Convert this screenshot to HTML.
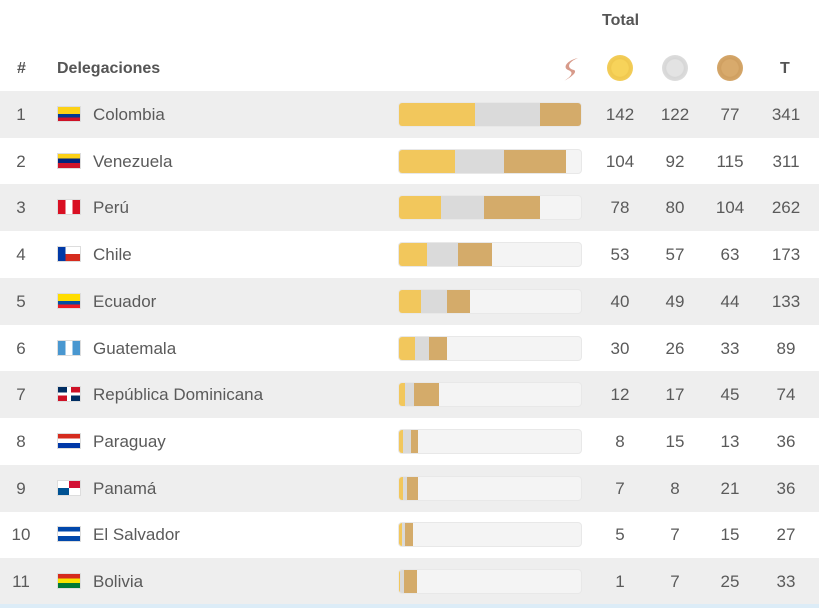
<!DOCTYPE html>
<html><head><meta charset="utf-8"><style>
*{margin:0;padding:0;box-sizing:border-box}
body{width:819px;height:608px;background:#fff;font-family:"Liberation Sans",sans-serif;color:#5a5a5a;position:relative;overflow:hidden}
.h{position:absolute;font-weight:bold;font-size:16px;color:#555}
.r{position:absolute;left:0;width:819px;height:47px}
.g{background:#eeeeee}
.r span{position:absolute;top:0;line-height:47px;font-size:17px}
.n{left:0;width:42px;text-align:center}
.nm{left:93px}
.c{width:50px;text-align:center}
.c1{left:595px}.c2{left:650px}.c3{left:705px}.c4{left:761px}
.fl{position:absolute;left:57px;top:15px;width:24px;height:16px;border:1px solid #ddd;overflow:hidden}
.bar{position:absolute;left:398px;top:11px;width:184px;height:25px;background:#f4f4f4;border-radius:4px;border:1px solid #e8e8e8;overflow:hidden;display:flex}
.bar i{display:block;height:100%}
.au{background:#f2c75c}.ag{background:#dadada}.cu{background:#d4ab6a}
.med{position:absolute;top:55px;width:26px;height:26px;border-radius:50%}
</style></head><body>
<div class="h" style="left:602px;top:12px">Total</div>
<div class="h" style="left:17px;top:60px">#</div>
<div class="h" style="left:57px;top:60px">Delegaciones</div>
<svg style="position:absolute;left:560px;top:56px" width="24" height="26"><path d="M18 2 C8 6,6 12,14 14 C18 16,10 22,4 25 C12 20,14 16,8 14 C2 11,8 4,18 2Z" fill="#d79a8a"/></svg>
<div class="med" style="left:607px;background:radial-gradient(circle,#f7d35a 45%,#f0c84e 50%,#f5d46c)"></div>
<div class="med" style="left:662px;background:radial-gradient(circle,#e3e3e3 45%,#d6d6d6 50%,#e6e6e6)"></div>
<div class="med" style="left:717px;background:radial-gradient(circle,#d8aa6c 45%,#cf9f60 50%,#dcb27a)"></div>
<div class="h" style="left:780px;top:60px">T</div>

<div class="r g" style="top:91px"><span class="n">1</span><div class="fl" style="background:linear-gradient(#fcd116 0 50%,#003893 50% 75%,#ce1126 75%)"></div><span class="nm">Colombia</span><div class="bar"><i class="au" style="width:76px"></i><i class="ag" style="width:65.5px"></i><i class="cu" style="width:41.3px"></i></div><span class="c c1">142</span><span class="c c2">122</span><span class="c c3">77</span><span class="c c4">341</span></div>
<div class="r" style="top:137.7px"><span class="n">2</span><div class="fl" style="background:linear-gradient(#fcd116 0 33%,#00247d 33% 66%,#cf142b 66%)"></div><span class="nm">Venezuela</span><div class="bar"><i class="au" style="width:55.8px"></i><i class="ag" style="width:49.4px"></i><i class="cu" style="width:61.7px"></i></div><span class="c c1">104</span><span class="c c2">92</span><span class="c c3">115</span><span class="c c4">311</span></div>
<div class="r g" style="top:184.4px"><span class="n">3</span><div class="fl" style="background:linear-gradient(90deg,#d91023 0 33%,#fff 33% 66%,#d91023 66%)"></div><span class="nm">Perú</span><div class="bar"><i class="au" style="width:41.9px"></i><i class="ag" style="width:42.9px"></i><i class="cu" style="width:55.8px"></i></div><span class="c c1">78</span><span class="c c2">80</span><span class="c c3">104</span><span class="c c4">262</span></div>
<div class="r" style="top:231.1px"><span class="n">4</span><div class="fl" style="background:linear-gradient(90deg,#0039a6 0 33%,transparent 33%),linear-gradient(#fff 0 50%,#d52b1e 50%)"></div><span class="nm">Chile</span><div class="bar"><i class="au" style="width:28.4px"></i><i class="ag" style="width:30.6px"></i><i class="cu" style="width:33.8px"></i></div><span class="c c1">53</span><span class="c c2">57</span><span class="c c3">63</span><span class="c c4">173</span></div>
<div class="r g" style="top:277.8px"><span class="n">5</span><div class="fl" style="background:linear-gradient(#ffdd00 0 50%,#034ea2 50% 75%,#ed1c24 75%)"></div><span class="nm">Ecuador</span><div class="bar"><i class="au" style="width:21.5px"></i><i class="ag" style="width:26.3px"></i><i class="cu" style="width:23.6px"></i></div><span class="c c1">40</span><span class="c c2">49</span><span class="c c3">44</span><span class="c c4">133</span></div>
<div class="r" style="top:324.5px"><span class="n">6</span><div class="fl" style="background:linear-gradient(90deg,#4997d0 0 33%,#fff 33% 66%,#4997d0 66%)"></div><span class="nm">Guatemala</span><div class="bar"><i class="au" style="width:16.1px"></i><i class="ag" style="width:14px"></i><i class="cu" style="width:17.7px"></i></div><span class="c c1">30</span><span class="c c2">26</span><span class="c c3">33</span><span class="c c4">89</span></div>
<div class="r g" style="top:371.2px"><span class="n">7</span><div class="fl" style="background:linear-gradient(90deg,transparent 0 42%,#fff 42% 58%,transparent 58%),linear-gradient(transparent 0 40%,#fff 40% 60%,transparent 60%),linear-gradient(90deg,#002d62 0 50%,#ce1126 50%) top/100% 50% no-repeat,linear-gradient(90deg,#ce1126 0 50%,#002d62 50%)"></div><span class="nm">República Dominicana</span><div class="bar"><i class="au" style="width:6.4px"></i><i class="ag" style="width:9.1px"></i><i class="cu" style="width:24.2px"></i></div><span class="c c1">12</span><span class="c c2">17</span><span class="c c3">45</span><span class="c c4">74</span></div>
<div class="r" style="top:417.9px"><span class="n">8</span><div class="fl" style="background:linear-gradient(#d52b1e 0 33%,#fff 33% 66%,#0038a8 66%)"></div><span class="nm">Paraguay</span><div class="bar"><i class="au" style="width:4.3px"></i><i class="ag" style="width:8px"></i><i class="cu" style="width:7px"></i></div><span class="c c1">8</span><span class="c c2">15</span><span class="c c3">13</span><span class="c c4">36</span></div>
<div class="r g" style="top:464.6px"><span class="n">9</span><div class="fl" style="background:linear-gradient(90deg,#fff 0 50%,#d21034 50%) top/100% 50% no-repeat,linear-gradient(90deg,#005293 0 50%,#fff 50%)"></div><span class="nm">Panamá</span><div class="bar"><i class="au" style="width:3.8px"></i><i class="ag" style="width:4.3px"></i><i class="cu" style="width:11.3px"></i></div><span class="c c1">7</span><span class="c c2">8</span><span class="c c3">21</span><span class="c c4">36</span></div>
<div class="r" style="top:511.3px"><span class="n">10</span><div class="fl" style="background:linear-gradient(#0047ab 0 33%,#fff 33% 66%,#0047ab 66%)"></div><span class="nm">El Salvador</span><div class="bar"><i class="au" style="width:2.7px"></i><i class="ag" style="width:3.8px"></i><i class="cu" style="width:8px"></i></div><span class="c c1">5</span><span class="c c2">7</span><span class="c c3">15</span><span class="c c4">27</span></div>
<div class="r g" style="top:558px"><span class="n">11</span><div class="fl" style="background:linear-gradient(#d52b1e 0 33%,#f9e300 33% 66%,#007934 66%)"></div><span class="nm">Bolivia</span><div class="bar"><i class="au" style="width:1px"></i><i class="ag" style="width:3.8px"></i><i class="cu" style="width:13.4px"></i></div><span class="c c1">1</span><span class="c c2">7</span><span class="c c3">25</span><span class="c c4">33</span></div>
<div style="position:absolute;left:0;top:604px;width:819px;height:4px;background:#dcecf7"></div>
</body></html>
